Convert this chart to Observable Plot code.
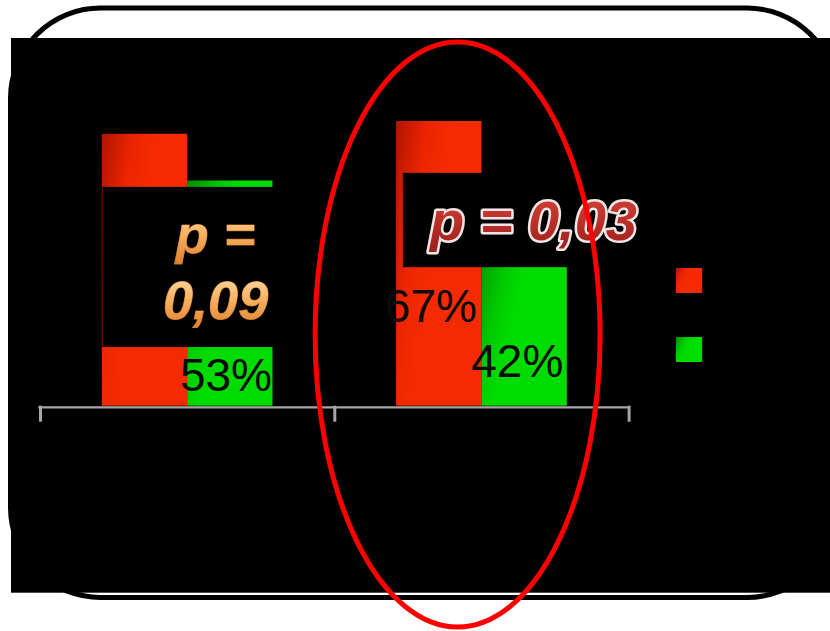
<!DOCTYPE html>
<html>
<head>
<meta charset="utf-8">
<script src="https://cdn.jsdelivr.net/npm/d3@7"></script>
<script src="https://cdn.jsdelivr.net/npm/@observablehq/plot@0.6"></script>
<style>
  html, body { margin: 0; padding: 0; background: #fff; }
  #chart svg { display: block; }
</style>
</head>
<body>
<div id="chart"></div>
<script>
// Two groups along the axis, two series (red / green) per group, values in %
const groups = [0, 1];
const seriesNames = ["rouge", "vert"];
const redValues = [64, 67];
const greenValues = [53, 42];
const pValues = ["0,09", "0,03"];

const rows = [];
groups.forEach((g, i) => {
  rows.push({group: g, series: seriesNames[0], value: redValues[i]});
  rows.push({group: g, series: seriesNames[1], value: greenValues[i]});
});

// Bar layout inside each group band (group units)
const barStart = {rouge: 0.21, vert: 0.5};
const barWidth = 0.29;
const bx1 = d => d.group + barStart[d.series];
const bx2 = d => bx1(d) + barWidth;

// Label nudges (px) per bar, in the order of rows; the first red label
// would sit entirely under the p-value box, so it is left out
const showLabel = [false, true, true, true];
const labelDx = [-4, -1, -5, -4];
const labelDy = [212, 209.5, 200, 149];

// Boxes behind the p-value annotations (group units / %)
const pBoxLayout = [
  {x1: 0.212, x2: 0.97, y1: 13.8, y2: 51.5},
  {x1: 0.233, x2: 1.12, y1: 32.6, y2: 54.8}
];

const FONT = "Liberation Sans, Arial, Helvetica, sans-serif";
const pxPerPct = 4.249;
const baseY = 405.7;

// Frame: white rounded card with a black panel laid over it
function backdrop(index, scales, values, dims) {
  const g = d3.create("svg:g");
  g.append("rect")
    .attr("x", 10.5).attr("y", 8)
    .attr("width", 826.5).attr("height", 589.5)
    .attr("rx", 90).attr("ry", 90)
    .attr("fill", "#fff").attr("stroke", "#000").attr("stroke-width", 5);
  g.append("rect")
    .attr("x", 11).attr("y", 38)
    .attr("width", dims.width - 11).attr("height", 554.7)
    .attr("fill", "#000");
  return g.node();
}

// Red ring highlighting the second group
function highlight(index, {x, y}) {
  return d3.create("svg:ellipse")
    .attr("cx", x(1.419)).attr("cy", y(16.76))
    .attr("rx", 142.5).attr("ry", 292.5)
    .attr("fill", "none").attr("stroke", "#ff0000").attr("stroke-width", 5)
    .node();
}

const marks = [
  backdrop,
  // baseline and group ticks
  Plot.ruleY([0], {x1: 0, x2: 2, stroke: "#a6a6a6", strokeWidth: 2.4, dy: 1.2, insetLeft: -1.7}),
  Plot.ruleX([0, 1, 2], {y1: 0, y2: -16 / pxPerPct, stroke: "#a6a6a6", strokeWidth: 3}),
  // bars
  Plot.rect(rows, {x1: bx1, x2: bx2, y1: 0, y2: "value", fill: "series"}),
  // value labels
  ...rows.map((r, i) => showLabel[i] ? Plot.text([r], {
    x: bx2, y: "value", text: d => `${d.value}%`,
    textAnchor: "end", lineAnchor: "bottom",
    dx: labelDx[i], dy: labelDy[i],
    fontSize: 46, fontFamily: FONT, fill: "#0a0a0a"
  }) : null),
  // p-value boxes
  Plot.rect(groups, {
    x1: g => g + pBoxLayout[g].x1, x2: g => g + pBoxLayout[g].x2,
    y1: g => pBoxLayout[g].y1, y2: g => pBoxLayout[g].y2,
    fill: "#000"
  }),
  // p-value, first group (two lines)
  Plot.text([groups[0]], {
    x: g => g + 0.595, y: 35.94, text: () => "p =",
    textAnchor: "middle", lineAnchor: "bottom",
    fontSize: 54, fontWeight: "bold", fontStyle: "italic", fontFamily: FONT,
    fill: "url(#pOrange)", stroke: "#b8681c", strokeWidth: 1, paintOrder: "stroke"
  }),
  Plot.text([groups[0]], {
    x: g => g + 0.595, y: 20.64, text: g => pValues[g],
    textAnchor: "middle", lineAnchor: "bottom",
    fontSize: 54, fontWeight: "bold", fontStyle: "italic", fontFamily: FONT,
    fill: "url(#pOrange)", stroke: "#b8681c", strokeWidth: 1, paintOrder: "stroke"
  }),
  // p-value, second group
  Plot.text([groups[1]], {
    x: g => g + 0.675, y: 39.0, text: g => `p = ${pValues[g]}`,
    textAnchor: "middle", lineAnchor: "bottom",
    fontSize: 56, fontWeight: "bold", fontStyle: "italic", fontFamily: FONT,
    fill: "url(#pRed)", stroke: "#f1e6e6", strokeWidth: 5,
    strokeLinejoin: "round", paintOrder: "stroke"
  }),
  // legend swatches
  Plot.rect(seriesNames, {
    x1: 2.161, x2: 2.25,
    y1: (s, i) => 26.52 - 16.24 * i, y2: (s, i) => 32.41 - 16.24 * i,
    fill: s => s
  }),
  highlight
];

const svg = Plot.plot({
  width: 830,
  height: 631,
  marginLeft: 40,
  marginRight: 201.4,
  marginTop: 0,
  marginBottom: 0,
  style: {background: "transparent", overflow: "visible"},
  x: {type: "linear", domain: [0, 2], range: [40, 628.6], axis: null},
  y: {type: "linear", domain: [0, 100], range: [baseY, baseY - 100 * pxPerPct], axis: null},
  color: {type: "ordinal", domain: seriesNames, range: ["url(#barRed)", "url(#barGreen)"]},
  marks
});

// Gradients used by the bars and the annotations
const defs = d3.select(svg).insert("defs", ":first-child");
function grad(id, x2, y2, stops) {
  const lg = defs.append("linearGradient").attr("id", id)
    .attr("x1", 0).attr("y1", 0).attr("x2", x2).attr("y2", y2);
  stops.forEach(([o, c]) => lg.append("stop").attr("offset", o).attr("stop-color", c));
}
grad("barRed", 0.5, 0.25, [[0, "#b01400"], [0.6, "#ec2500"], [1, "#f42a00"]]);
grad("barGreen", 0.5, 0.25, [[0, "#008c00"], [0.6, "#00c800"], [1, "#00dc00"]]);
grad("pOrange", 0, 1, [[0, "#ffe3b4"], [0.5, "#f7b262"], [1, "#de7e28"]]);
grad("pRed", 0, 1, [[0, "#d4463e"], [0.55, "#b92e27"], [1, "#9a201c"]]);

document.getElementById("chart").appendChild(svg);
</script>
</body>
</html>
